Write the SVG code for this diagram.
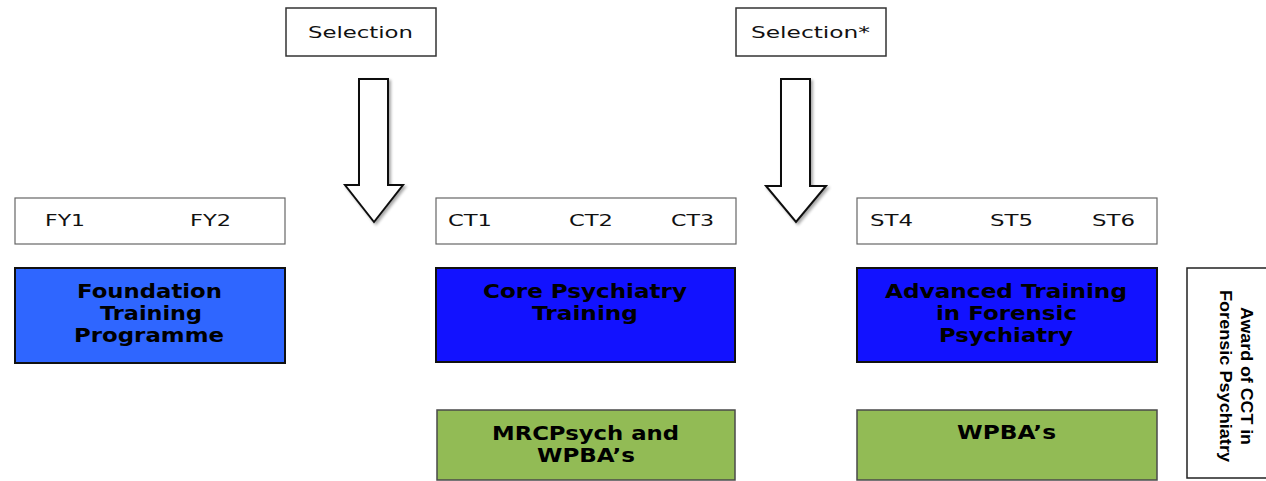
<svg xmlns="http://www.w3.org/2000/svg" width="1266" height="481" viewBox="0 0 1266 481">
<defs>
<filter id="sh" x="-20%" y="-10%" width="150%" height="130%">
<feGaussianBlur in="SourceAlpha" stdDeviation="1.5"/>
<feOffset dx="2" dy="2" result="b"/>
<feComponentTransfer><feFuncA type="linear" slope="0.35"/></feComponentTransfer>
<feMerge><feMergeNode/><feMergeNode in="SourceGraphic"/></feMerge>
</filter>
</defs>
<style>
.sel{fill:#fff;stroke:#333;stroke-width:1.5}
.yr{fill:#fff;stroke:#666;stroke-width:1.2}
.f{fill:#2f66ff;stroke:#111;stroke-width:2}
.b{fill:#1212ff;stroke:#111;stroke-width:2}
.g{fill:#92bb55;stroke:#4a4a4a;stroke-width:1.5}
.aw{fill:#fff;stroke:#222;stroke-width:1.5}
.arr{fill:#fff;stroke:#111;stroke-width:2;stroke-linejoin:miter}
.t{font-family:"DejaVu Sans",Verdana,sans-serif;font-size:16px;fill:#111}
.tb{font-family:"DejaVu Sans",Verdana,sans-serif;font-size:19px;font-weight:bold;fill:#000}
.ta{font-family:"Liberation Sans",Arial,sans-serif;font-size:17px;font-weight:bold;fill:#000}
</style>
<rect width="1266" height="481" fill="#fff"/>
<g id="connectors">
<path class="arr" filter="url(#sh)" d="M359,79 H388 V185 H403 L374,222 L345,185 H359 Z"/>
<path class="arr" filter="url(#sh)" d="M781,79 H810 V186 H826 L796,222 L766,186 H781 Z"/>
</g>
<g id="selection1">
<rect class="sel" x="286" y="8" width="150" height="48"/>
<text class="t" x="308" y="38" textLength="105" lengthAdjust="spacingAndGlyphs" font-size="20">Selection</text>
</g>
<g id="selection2">
<rect class="sel" x="736" y="8" width="150" height="48"/>
<text class="t" x="751" y="38" textLength="119" lengthAdjust="spacingAndGlyphs" font-size="20">Selection*</text>
</g>
<g id="fy">
<rect class="yr" x="15" y="198" width="270" height="46"/>
<text class="t" x="45" y="226" textLength="40" lengthAdjust="spacingAndGlyphs">FY1</text>
<text class="t" x="190" y="226" textLength="41" lengthAdjust="spacingAndGlyphs">FY2</text>
</g>
<g id="ct">
<rect class="yr" x="436" y="198" width="300" height="46"/>
<text class="t" x="448" y="226" textLength="44" lengthAdjust="spacingAndGlyphs">CT1</text>
<text class="t" x="569" y="226" textLength="44" lengthAdjust="spacingAndGlyphs">CT2</text>
<text class="t" x="671" y="226" textLength="43" lengthAdjust="spacingAndGlyphs">CT3</text>
</g>
<g id="st">
<rect class="yr" x="857" y="198" width="300" height="46"/>
<text class="t" x="870" y="226" textLength="43" lengthAdjust="spacingAndGlyphs">ST4</text>
<text class="t" x="990" y="226" textLength="43" lengthAdjust="spacingAndGlyphs">ST5</text>
<text class="t" x="1092" y="226" textLength="43" lengthAdjust="spacingAndGlyphs">ST6</text>
</g>
<g id="foundation">
<rect class="f" x="15" y="268" width="270" height="95"/>
<text class="tb" x="77" y="298" textLength="145" lengthAdjust="spacingAndGlyphs">Foundation</text>
<text class="tb" x="100" y="320" textLength="102" lengthAdjust="spacingAndGlyphs">Training</text>
<text class="tb" x="74" y="342" textLength="150" lengthAdjust="spacingAndGlyphs">Programme</text>
</g>
<g id="core">
<rect class="b" x="436" y="268" width="299" height="94"/>
<text class="tb" x="483" y="298" textLength="204" lengthAdjust="spacingAndGlyphs">Core Psychiatry</text>
<text class="tb" x="532" y="320" textLength="106" lengthAdjust="spacingAndGlyphs">Training</text>
</g>
<g id="advanced">
<rect class="b" x="857" y="268" width="300" height="94"/>
<text class="tb" x="885" y="298" textLength="242" lengthAdjust="spacingAndGlyphs">Advanced Training</text>
<text class="tb" x="936" y="320" textLength="141" lengthAdjust="spacingAndGlyphs">in Forensic</text>
<text class="tb" x="939" y="342" textLength="134" lengthAdjust="spacingAndGlyphs">Psychiatry</text>
</g>
<g id="mrcpsych">
<rect class="g" x="437" y="410" width="298" height="70"/>
<text class="tb" x="492" y="440" textLength="187" lengthAdjust="spacingAndGlyphs">MRCPsych and</text>
<text class="tb" x="537" y="462" textLength="98" lengthAdjust="spacingAndGlyphs">WPBA’s</text>
</g>
<g id="wpba">
<rect class="g" x="857" y="410" width="300" height="70"/>
<text class="tb" x="957" y="439" textLength="99" lengthAdjust="spacingAndGlyphs">WPBA’s</text>
</g>
<g id="award">
<rect class="aw" x="1187" y="268" width="95" height="210"/>
<text class="ta" transform="translate(1241,376) rotate(90)" text-anchor="middle" textLength="138" lengthAdjust="spacingAndGlyphs">Award of CCT in</text>
<text class="ta" transform="translate(1220,376) rotate(90)" text-anchor="middle" textLength="172" lengthAdjust="spacingAndGlyphs">Forensic Psychiatry</text>
</g>
</svg>
